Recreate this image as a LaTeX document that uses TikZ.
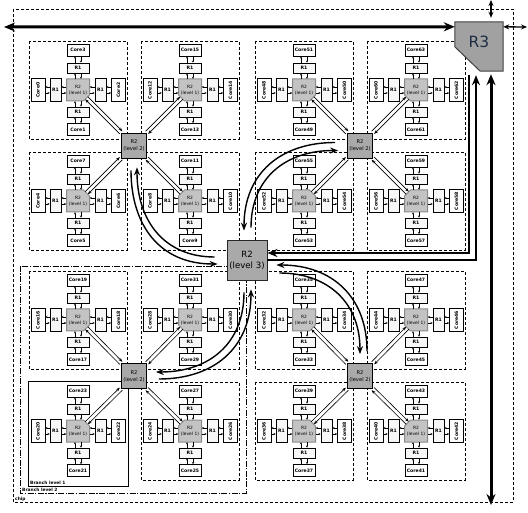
\documentclass[tikz,border=0pt]{standalone}
\usepackage{fontspec}
\setmainfont{DejaVu Sans}
\usetikzlibrary{arrows.meta,backgrounds}
\definecolor{RouterGray}{HTML}{A9A9A9}
\definecolor{RouterLight}{HTML}{C3C3C3}
\definecolor{RouterEdge}{HTML}{8A8A8A}
\definecolor{LabelNavy}{HTML}{1E2C46}

\begin{document}
\begin{tikzpicture}[
  x=1pt, y=-1pt,
  every node/.style={align=center, inner sep=0pt},
  corebox/.style={draw, fill=white, line width=0.6pt, minimum width=22pt, minimum height=12pt, font=\fontsize{4.6}{5}\selectfont\bfseries},
  vcorebox/.style={corebox, minimum width=14pt, minimum height=23pt},
  ronebox/.style={draw, fill=black!3, line width=0.6pt, minimum width=22pt, minimum height=10pt, font=\fontsize{4.6}{5}\selectfont\bfseries},
  vronebox/.style={ronebox, minimum width=11pt, minimum height=23pt},
  rtwoone/.style={minimum width=23pt, minimum height=22pt, font=\fontsize{4.4}{6.5}\selectfont},
  rtwofill/.style={fill=RouterLight, draw=RouterEdge, line width=1pt},
  rtwotwo/.style={draw, fill=RouterGray, line width=0.8pt, minimum width=25pt, minimum height=25pt, font=\fontsize{5.2}{7}\selectfont},
  rtwothree/.style={draw=black!85, fill=RouterGray, line width=0.8pt, minimum width=40pt, minimum height=40pt, font=\fontsize{8.6}{11}\selectfont},
  rthreefill/.style={fill=RouterGray!95!black, draw=black!75, line width=1pt},
  cbox/.style={line width=0.6pt, dash pattern=on 3pt off 2pt},
  chipbox/.style={line width=0.7pt, dash pattern=on 3pt off 2pt},
  bboxtwo/.style={line width=0.6pt, dash pattern=on 6pt off 1.5pt on 1.2pt off 1.5pt},
  bboxone/.style={line width=0.6pt},
  tagtext/.style={font=\fontsize{4.4}{5}\selectfont\bfseries, anchor=base west},
  pairarr/.style={-{Stealth[length=2.2pt,width=2pt]}, line width=0.5pt},
  linkarr/.style={-{Stealth[length=4pt,width=3pt]}, line width=0.6pt},
  ringarr/.style={-{Stealth[length=8pt,width=6pt]}, line width=1.4pt, shorten <=12pt, shorten >=9pt},
  busarr/.style={-{Stealth[length=10pt,width=8pt]}, line width=2.6pt},
  bothbus/.style={{Stealth[length=11pt,width=9pt]}-{Stealth[length=11pt,width=9pt]}, line width=3pt},
  portarr/.style={{Stealth[length=6pt,width=5pt]}-{Stealth[length=6pt,width=5pt]}, line width=1.3pt}
]
\useasboundingbox (0,0) rectangle (528,513);

% chip and branch outlines
\begin{scope}[on background layer]
  \draw[chipbox] (13,9) rectangle (513,502);
  \draw[bboxtwo] (20,266) rectangle (246,493);
  \draw[bboxone] (28,381) rectangle (128,486);
\end{scope}
\node[tagtext] (chiptag) at (15,500) {chip};
\node[tagtext] (btwotag) at (22,491) {Branch level 2};
\node[tagtext] (bonetag) at (30,484) {Branch level 1};

% level 2 and level 3 routers
\foreach \qi/\qj/\qk in {0/0/0,0/1/1,1/1/2,1/0/3}
  \node[rtwotwo] (rtwo\qk) at ({134+226*\qi},{145.5+230.5*\qj}) {R2\\(level 2)};
\node[rtwothree] (rtwotop) at (247,260) {R2\\(level 3)};

% clusters
\foreach \qi/\qj in {0/0,0/1,1/1,1/0} {
  \foreach \ci/\cj in {0/0,0/1,1/1,1/0} {
    \pgfmathtruncatemacro{\qk}{3*\qi+\qj-2*\qi*\qj}
    \pgfmathtruncatemacro{\nb}{16*\qk+4*(3*\ci+\cj-2*\ci*\cj)}
    \pgfmathtruncatemacro{\nbt}{\nb+1}
    \pgfmathtruncatemacro{\nrt}{\nb+2}
    \pgfmathtruncatemacro{\nt}{\nb+3}
    \pgfmathsetmacro{\cx}{78+226*\qi+112*\ci}
    \pgfmathsetmacro{\cy}{90+230*\qj+111*\cj}
    \pgfmathtruncatemacro{\sx}{1-2*\ci}
    \pgfmathtruncatemacro{\sy}{1-2*\cj}
    \pgfmathtruncatemacro{\ang}{mod(atan2(\sy,-\sx)+360,360)}
    \pgfmathsetmacro{\ox}{1.3*\sy}
    \pgfmathsetmacro{\oy}{1.3*\sx}
    \pgfmathsetmacro{\mx}{-1.3*\sy}
    \pgfmathsetmacro{\my}{-1.3*\sx}
    \begin{scope}[shift={(\cx,\cy)}]
      \begin{scope}[on background layer]
        \ifnum\nb=20 \else \draw[cbox] (-49,-49) rectangle (49,49); \fi
      \end{scope}
      \filldraw[rtwofill] ({-11.5*\sx},{-11*\sy}) -- ({11.5*\sx},{-11*\sy}) -- ({11.5*\sx},{5*\sy})
        -- ({5.5*\sx},{11*\sy}) -- ({-11.5*\sx},{11*\sy}) -- cycle;
      \node[rtwoone] (rone\nb) at (0,0) {R2\\(level 1)};
      \coordinate (cham\nb) at ({8.5*\sx},{8*\sy});
      \node[ronebox] (r1t\nb) at (0,-22) {R1};
      \node[ronebox] (r1b\nb) at (0,22) {R1};
      \node[vronebox] (r1l\nb) at (-22.5,0) {R1};
      \node[vronebox] (r1r\nb) at (22.5,0) {R1};
      \node[corebox] (coret\nb) at (0,-40) {Core\nt};
      \node[corebox] (coreb\nb) at (0,39.5) {Core\nbt};
      \node[vcorebox] (corel\nb) at (-40,0) {\rotatebox{90}{Core\nb}};
      \node[vcorebox] (corer\nb) at (40.5,0) {\rotatebox{90}{Core\nrt}};
    \end{scope}
    \foreach \a/\b in {r1t/coret, rone/r1t, r1b/rone, coreb/r1b} {
      \draw[pairarr] ([xshift=-3pt]\a\nb.north) -- ([xshift=-3pt]\b\nb.south);
      \draw[pairarr] ([xshift=3pt]\b\nb.south) -- ([xshift=3pt]\a\nb.north);
    }
    \foreach \a/\b in {r1l/corel, rone/r1l, r1r/rone, corer/r1r} {
      \draw[pairarr] ([yshift=3pt]\a\nb.west) -- ([yshift=3pt]\b\nb.east);
      \draw[pairarr] ([yshift=-3pt]\b\nb.east) -- ([yshift=-3pt]\a\nb.west);
    }
    \draw[linkarr] ([xshift=\ox pt,yshift=\oy pt]cham\nb) -- ([xshift=\ox pt,yshift=\oy pt]rtwo\qk.\ang);
    \draw[linkarr] ([xshift=\mx pt,yshift=\my pt]rtwo\qk.\ang) -- ([xshift=\mx pt,yshift=\my pt]cham\nb);
  }
}

% level 2 <-> level 3
\draw[ringarr] ([yshift=3pt]rtwo3.west) to[out=180,in=90,looseness=1.2] ([xshift=-3pt]rtwotop.north);
\draw[ringarr] ([xshift=4pt]rtwotop.north) to[out=90,in=180,looseness=1.2] ([yshift=-5pt]rtwo3.west);
\draw[ringarr] ([xshift=7pt]rtwo2.north) to[out=90,in=0,looseness=1.2] ([yshift=-5pt]rtwotop.east);
\draw[ringarr] ([yshift=-13pt]rtwotop.east) to[out=0,in=90,looseness=1.2] (rtwo2.north);
\draw[ringarr] ([yshift=-3pt]rtwo1.east) to[out=0,in=-90,looseness=1.2] ([xshift=4pt]rtwotop.south);
\draw[ringarr] ([xshift=-3pt]rtwotop.south) to[out=-90,in=0,looseness=1.2] ([yshift=4pt]rtwo1.east);
\draw[ringarr] ([xshift=-3pt]rtwo0.south) to[out=-90,in=180,looseness=1.2] ([yshift=-4pt]rtwotop.west);
\draw[ringarr] ([yshift=3pt]rtwotop.west) to[out=180,in=-90,looseness=1.2] ([xshift=3pt]rtwo0.south);

% R3 and chip ports
\node[minimum width=48pt, minimum height=49pt] (rthree) at (479,46.5) {};
\filldraw[rthreefill] (rthree.north west) -- (rthree.north east) -- (rthree.south east)
  -- ([xshift=-23pt]rthree.south east) -- ([yshift=-25pt]rthree.north west) -- cycle;
\node[font=\fontsize{15.5}{16}\selectfont, text=LabelNavy] (rthreetext) at ([yshift=5pt]rthree.center) {R3};
\coordinate (westend) at (4,27);
\coordinate (eastend) at (527,27);
\coordinate (northend) at (491,0);
\coordinate (southend) at (491,505);
\draw[bothbus] ([yshift=-5pt]rthree.north west) -- (westend);
\draw[portarr] ([yshift=-5pt]rthree.north east) -- (eastend);
\draw[portarr] ([xshift=12pt,yshift=4pt]rthree.north) -- (northend);
\draw[bothbus] ([xshift=12pt,yshift=-3pt]rthree.south) -- (southend);
\draw[busarr] ([xshift=-10pt,yshift=-4pt]rthree.south) |- ([yshift=7pt]rtwotop.east);
\draw[busarr] (rtwotop.east) -| ([xshift=-3pt,yshift=-4pt]rthree.south);
\end{tikzpicture}
\end{document}
